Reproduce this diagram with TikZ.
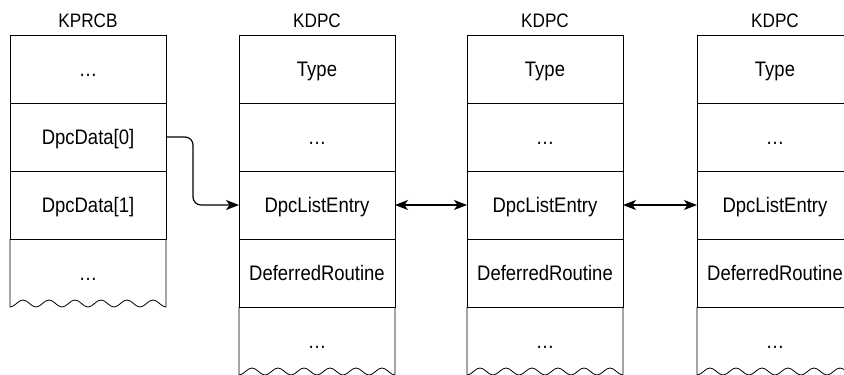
\documentclass[tikz,border=0pt]{standalone}
\usepackage{fontspec}
\setmainfont{Liberation Sans}[FakeStretch=0.88]
\usetikzlibrary{positioning,arrows.meta}

\tikzset{
  field/.style={draw, line width=0.8pt, minimum width=156pt, minimum height=68pt,
    outer sep=0pt, inner sep=0pt, text height=15pt, text depth=0pt,
    font=\fontsize{21}{24}\selectfont},
  tailfield/.style={field, draw=none},
  boxtitle/.style={above=5.5pt of #1, inner sep=2pt, font=\fontsize{19.5}{22}\selectfont},
  link/.style={line width=1.2pt, -{Stealth[length=13pt,width=10pt,inset=3.5pt]}},
  bilink/.style={line width=1.2pt, {Stealth[length=13pt,width=10pt,inset=3.5pt]}-{Stealth[length=13pt,width=10pt,inset=3.5pt]}},
}
% sides and wavy bottom of the last field
\newcommand{\wavybox}[1]{%
  \draw[line width=0.8pt] (#1.north west) -- (#1.south west)
    \foreach \k in {1,...,6} {cos ++(6.5,3.5) sin ++(6.5,3.5) cos ++(6.5,-3.5) sin ++(6.5,-3.5)}
    -- (#1.north east);}

\begin{document}
\begin{tikzpicture}[x=1pt, y=1pt]
	\useasboundingbox (0,0) rectangle (844,-375);
	\clip (0,0) rectangle (844,-375);

	% KPRCB
	\node[field] (prcb0) at (88,-69) {…};
	\node[field, below=0pt of prcb0] (dpc0) {DpcData[0]};
	\node[field, below=0pt of dpc0] (dpc1) {DpcData[1]};
	\node[tailfield, below=0pt of dpc1] (prcbrest) {…};
	\wavybox{prcbrest}
	\node[boxtitle=prcb0] (prcb) {KPRCB};

	% KDPC list
	\foreach \n/\x in {1/317, 2/545, 3/775} {
		\node[field] (type\n) at (\x,-69) {Type};
		\node[field, below=0pt of type\n] (gap\n) {…};
		\node[field, below=0pt of gap\n] (entry\n) {DpcListEntry};
		\node[field, below=0pt of entry\n] (routine\n) {DeferredRoutine};
		\node[tailfield, below=0pt of routine\n] (rest\n) {…};
		\wavybox{rest\n}
		\node[boxtitle=type\n] (kdpc\n) {KDPC};
	}

	\draw[link, rounded corners=8pt] (dpc0.east) -- ++(27,0) |- (entry1.west);
	\draw[bilink] (entry1.east) -- (entry2.west);
	\draw[bilink] (entry2.east) -- (entry3.west);
\end{tikzpicture}
\end{document}
